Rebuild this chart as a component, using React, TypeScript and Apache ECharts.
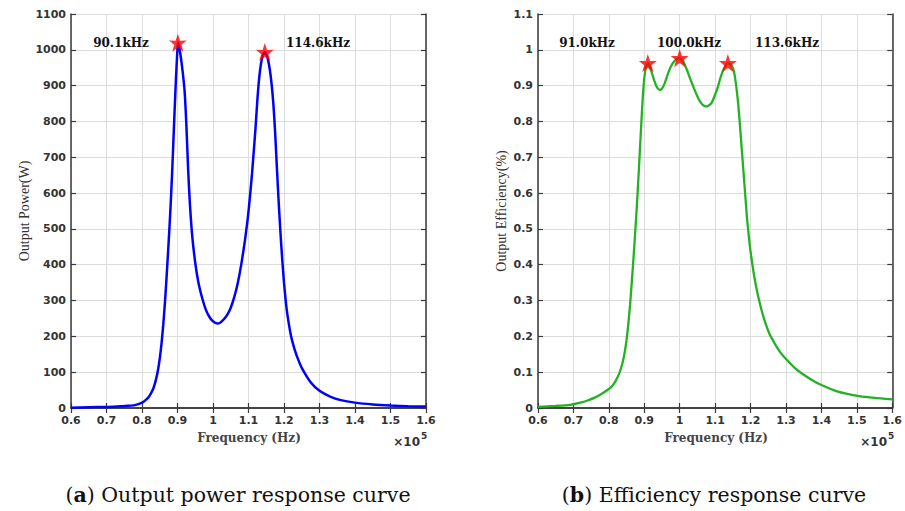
import React, { useEffect, useRef } from "react";
import * as echarts from "echarts";

// ---------- data (frequency in ×10^5 Hz) ----------
const powerFreq = [0.60, 0.65, 0.70, 0.74, 0.76, 0.78, 0.80, 0.81, 0.82, 0.83, 0.835, 0.84, 0.845, 0.85, 0.855, 0.86, 0.865, 0.87, 0.875, 0.88, 0.885, 0.89, 0.895, 0.90, 0.902, 0.905, 0.91, 0.915, 0.92, 0.925, 0.93, 0.935, 0.94, 0.945, 0.95, 0.955, 0.96, 0.97, 0.98, 0.99, 1.00, 1.012, 1.02, 1.03, 1.04, 1.05, 1.06, 1.07, 1.08, 1.09, 1.10, 1.11, 1.12, 1.125, 1.13, 1.135, 1.14, 1.146, 1.15, 1.155, 1.16, 1.165, 1.17, 1.175, 1.18, 1.185, 1.19, 1.195, 1.20, 1.205, 1.21, 1.22, 1.23, 1.24, 1.25, 1.275, 1.30, 1.33, 1.36, 1.40, 1.45, 1.50, 1.55, 1.60];
const powerValue = [1, 2, 3, 5, 6, 8, 15, 22, 32, 50, 64, 82, 106, 138, 180, 234, 300, 378, 462, 553, 660, 785, 905, 1005, 1020, 1008, 975, 935, 885, 790, 665, 568, 497, 446, 405, 372, 345, 305, 274, 254, 242, 236, 238, 247, 260, 280, 310, 350, 403, 468, 548, 655, 785, 860, 920, 960, 983, 993, 988, 972, 945, 905, 850, 770, 670, 575, 490, 415, 350, 298, 258, 200, 163, 135, 112, 72, 48, 32, 22, 15, 10, 7, 5, 4];

const effFreq = [0.60, 0.65, 0.69, 0.72, 0.74, 0.76, 0.78, 0.80, 0.81, 0.82, 0.83, 0.835, 0.84, 0.845, 0.85, 0.855, 0.86, 0.865, 0.87, 0.875, 0.88, 0.885, 0.89, 0.895, 0.90, 0.905, 0.911, 0.915, 0.92, 0.928, 0.935, 0.944, 0.95, 0.957, 0.963, 0.97, 0.98, 0.99, 1.00, 1.01, 1.02, 1.03, 1.04, 1.05, 1.06, 1.07, 1.078, 1.09, 1.10, 1.108, 1.115, 1.125, 1.136, 1.145, 1.15, 1.155, 1.16, 1.165, 1.17, 1.175, 1.18, 1.185, 1.19, 1.195, 1.20, 1.21, 1.22, 1.23, 1.24, 1.253, 1.27, 1.285, 1.30, 1.327, 1.35, 1.384, 1.41, 1.44, 1.47, 1.506, 1.55, 1.60];
const effValue = [0.003, 0.006, 0.009, 0.015, 0.021, 0.029, 0.040, 0.053, 0.062, 0.077, 0.098, 0.113, 0.132, 0.157, 0.19, 0.235, 0.29, 0.355, 0.425, 0.50, 0.58, 0.67, 0.765, 0.855, 0.92, 0.952, 0.963, 0.955, 0.94, 0.915, 0.897, 0.888, 0.892, 0.905, 0.922, 0.942, 0.962, 0.973, 0.977, 0.968, 0.945, 0.918, 0.893, 0.870, 0.852, 0.843, 0.842, 0.852, 0.875, 0.897, 0.922, 0.948, 0.963, 0.958, 0.950, 0.930, 0.895, 0.850, 0.790, 0.725, 0.660, 0.595, 0.530, 0.480, 0.437, 0.370, 0.318, 0.277, 0.243, 0.208, 0.177, 0.154, 0.137, 0.110, 0.093, 0.072, 0.060, 0.048, 0.040, 0.033, 0.028, 0.024];

const powerPeakFreq = [0.901, 1.146];
const powerPeakValue = [1020, 994];
const powerPeakLabel = ["90.1kHz", "114.6kHz"];

const effPeakFreq = [0.910, 1.000, 1.136];
const effPeakValue = [0.963, 0.977, 0.963];
const effPeakLabel = ["91.0kHz", "100.0kHz", "113.6kHz"];

const xTickMin = 0.6;
const xTickMax = 1.6;
const xTickStep = 0.1;
const powerTickMax = 1100;
const powerTickStep = 100;
const effTickMax = 1.1;
const effTickStep = 0.1;

const captionA = ["a", " Output power response curve"];
const captionB = ["b", " Efficiency response curve"];

// ---------- styles ----------
const STAR = "path://M50,0 L61.8,35.1 L97.6,34.5 L69.1,56.4 L79.4,90.5 L50,69.8 L20.6,90.5 L30.9,56.4 L2.4,34.5 L38.2,35.1 Z";
const AXIS_COLOR = "#3a3a3a";
const GRID_COLOR = "#dcdcdc";
const LABEL_FONT = { fontFamily: "DejaVu Sans", fontWeight: "bold" as const, fontSize: 11, color: "#333" };

const fmt1 = (v: number) => String(Math.round(v * 10) / 10);

function xAxes(gridIndex: number) {
  const base = { type: "value", gridIndex, min: xTickMin, max: xTickMax, interval: xTickStep };
  return [
    {
      ...base,
      position: "bottom",
      axisLine: { show: true, lineStyle: { color: AXIS_COLOR, width: 1.5 } },
      axisTick: { show: true, inside: true, length: 5, lineStyle: { color: AXIS_COLOR, width: 1.2 } },
      axisLabel: { ...LABEL_FONT, margin: 7, formatter: fmt1 },
      splitLine: { show: true, lineStyle: { color: GRID_COLOR, width: 1 } },
    },
    {
      ...base,
      position: "top",
      axisLine: { show: true, lineStyle: { color: AXIS_COLOR, width: 1.5 } },
      axisTick: { show: true, inside: true, length: 5, lineStyle: { color: AXIS_COLOR, width: 1.2 } },
      axisLabel: { show: false },
      splitLine: { show: false },
    },
  ];
}

function yAxes(gridIndex: number, max: number, step: number) {
  const base = { type: "value", gridIndex, min: 0, max, interval: step };
  return [
    {
      ...base,
      position: "left",
      axisLine: { show: true, lineStyle: { color: AXIS_COLOR, width: 1.5 } },
      axisTick: { show: true, inside: true, length: 5, lineStyle: { color: AXIS_COLOR, width: 1.2 } },
      axisLabel: { ...LABEL_FONT, margin: 5, formatter: fmt1 },
      splitLine: { show: true, lineStyle: { color: GRID_COLOR, width: 1 } },
    },
    {
      ...base,
      position: "right",
      axisLine: { show: true, lineStyle: { color: AXIS_COLOR, width: 1.5 } },
      axisTick: { show: true, inside: true, length: 5, lineStyle: { color: AXIS_COLOR, width: 1.2 } },
      axisLabel: { show: false },
      splitLine: { show: false },
    },
  ];
}

function text(x: number, y: number, t: string, opts: any = {}) {
  const { rotation, ...style } = opts;
  return {
    type: "text",
    x,
    y,
    rotation: rotation || 0,
    z: 100,
    style: {
      text: t,
      fill: "#222",
      align: "center",
      verticalAlign: "middle",
      textAlign: "center",
      textVerticalAlign: "middle",
      ...style,
    },
  };
}

const peakLabelStyle = { fontFamily: "DejaVu Serif", fontWeight: "bold", fontSize: 12, fill: "#111" };
const xNameStyle = { fontFamily: "DejaVu Serif", fontWeight: "bold", fontSize: 12, fill: "#444" };
const yNameStyle = { fontFamily: "Liberation Serif", fontWeight: "normal", fontSize: 14, fill: "#333" };
const expStyle = { fontFamily: "DejaVu Sans", fontWeight: "normal", fontSize: 12, fill: "#333" };
const captionStyle = { fontFamily: "DejaVu Serif", fontSize: 20.5, fill: "#111" };

function caption(x: number, y: number, parts: string[]) {
  return text(x, y, "({b|" + parts[0] + "})" + parts[1], {
    ...captionStyle,
    rich: { b: { fontFamily: "DejaVu Serif", fontSize: 20.5, fontWeight: "bold", fill: "#111" } },
  });
}

function exponent(xRight: number, y: number) {
  return [
    text(xRight - 7, y + 2, "×10", { ...expStyle, align: "right", textAlign: "right", fontWeight: "bold" }),
    text(xRight - 6, y - 4, "5", { ...expStyle, align: "left", textAlign: "left", fontWeight: "bold", fontSize: 9 }),
  ];
}

export default function App() {
  const ref = useRef<HTMLDivElement>(null);

  useEffect(() => {
    if (!ref.current) return;
    const chart = echarts.init(ref.current, undefined, { renderer: "svg" });

    const powerData = powerFreq.map((f, i) => [f, powerValue[i]]);
    const effData = effFreq.map((f, i) => [f, effValue[i]]);
    const powerPeaks = powerPeakFreq.map((f, i) => [f, powerPeakValue[i]]);
    const effPeaks = effPeakFreq.map((f, i) => [f, effPeakValue[i]]);

    const option: any = {
      animation: false,
      backgroundColor: "#ffffff",
      grid: [
        { left: 71, right: 479, top: 14, bottom: 103 },
        { left: 538, right: 12, top: 14, bottom: 103 },
      ],
      xAxis: [...xAxes(0), ...xAxes(1)],
      yAxis: [...yAxes(0, powerTickMax, powerTickStep), ...yAxes(1, effTickMax, effTickStep)],
      series: [
        {
          type: "line",
          name: "Output Power",
          xAxisIndex: 0,
          yAxisIndex: 0,
          data: powerData,
          symbol: "none",
          smooth: 0.2,
          lineStyle: { color: "#0000ff", width: 2.5 },
          z: 5,
        },
        {
          type: "scatter",
          xAxisIndex: 0,
          yAxisIndex: 0,
          data: powerPeaks,
          symbol: STAR,
          symbolSize: 18,
          itemStyle: { color: "#ff0000" },
          z: 10,
        },
        {
          type: "line",
          name: "Output Efficiency",
          xAxisIndex: 2,
          yAxisIndex: 2,
          data: effData,
          symbol: "none",
          smooth: 0.2,
          lineStyle: { color: "#22b322", width: 2.3 },
          z: 5,
        },
        {
          type: "scatter",
          xAxisIndex: 2,
          yAxisIndex: 2,
          data: effPeaks,
          symbol: STAR,
          symbolSize: 18,
          itemStyle: { color: "#ff0000" },
          z: 10,
        },
      ],
      graphic: [
        text(121, 43, powerPeakLabel[0], peakLabelStyle),
        text(318, 43, powerPeakLabel[1], peakLabelStyle),
        text(587, 43, effPeakLabel[0], peakLabelStyle),
        text(689, 43, effPeakLabel[1], peakLabelStyle),
        text(787, 43, effPeakLabel[2], peakLabelStyle),
        text(249, 438, "Frequency (Hz)", xNameStyle),
        text(716, 438, "Frequency (Hz)", xNameStyle),
        text(24, 211, "Output Power(W)", { ...yNameStyle, rotation: Math.PI / 2 }),
        text(501, 211, "Output Efficiency(%)", { ...yNameStyle, rotation: Math.PI / 2 }),
        ...exponent(427, 440),
        ...exponent(894, 440),
        caption(238, 495, captionA),
        caption(714, 495, captionB),
      ],
    };

    chart.setOption(option);
    return () => chart.dispose();
  }, []);

  return (
    <div
      ref={ref}
      style={{ position: "absolute", left: 0, top: 0, width: 905, height: 511, background: "#fff" }}
    />
  );
}
